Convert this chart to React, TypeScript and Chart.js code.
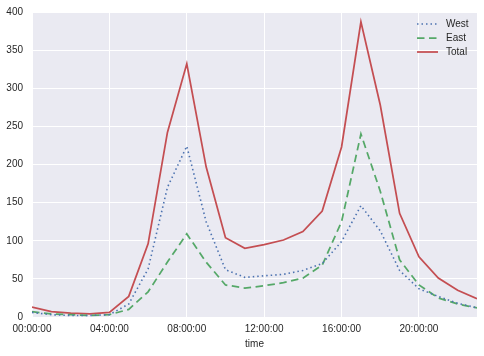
import React, { useEffect, useRef } from "react";
import { Chart, registerables } from "chart.js";

Chart.register(...registerables);

const hours = [0, 1, 2, 3, 4, 5, 6, 7, 8, 9, 10, 11, 12, 13, 14, 15, 16, 17, 18, 19, 20, 21, 22, 23];
const west = [6, 3, 2, 2, 3, 17, 63, 170, 224, 125, 62, 52, 54, 56, 61, 70, 99, 146, 113, 61, 37, 27, 18, 12];
const east = [7, 4, 3, 2, 3, 10, 33, 72, 109, 72, 42, 38, 41, 45, 51, 68, 125, 240, 165, 75, 42, 25, 17, 12];
const total = [13, 7, 5, 4, 6, 27, 96, 242, 332, 197, 104, 90, 95, 101, 112, 139, 223, 387, 278, 136, 79, 51, 35, 24];
const xTickHours = [0, 4, 8, 12, 16, 20];
const yTicks = [0, 50, 100, 150, 200, 250, 300, 350, 400];
const seriesNames = ["West", "East", "Total"];

const pad = (n: number) => (n < 10 ? "0" + n : "" + n);
const fmtHour = (h: number) => `${pad(h)}:00:00`;

const TEXT = "#262626";
const FONT = "'Liberation Sans', Arial, sans-serif";

const bgPlugin = {
  id: "plotBg",
  beforeDraw(chart: any) {
    const { ctx, chartArea } = chart;
    ctx.save();
    ctx.fillStyle = "#EAEAF2";
    ctx.fillRect(chartArea.left, chartArea.top, chartArea.right - chartArea.left, chartArea.bottom - chartArea.top);
    ctx.restore();
  },
};

const legendPlugin = {
  id: "innerLegend",
  afterDraw(chart: any) {
    const { ctx, chartArea } = chart;
    const x0 = chartArea.right - 60;
    const y0 = chartArea.top + 12;
    ctx.save();
    chart.data.datasets.forEach((ds: any, i: number) => {
      const y = y0 + i * 14;
      ctx.strokeStyle = ds.borderColor;
      ctx.lineWidth = ds.borderWidth;
      ctx.setLineDash(ds.borderDash || []);
      ctx.beginPath();
      ctx.moveTo(x0, y);
      ctx.lineTo(x0 + 21, y);
      ctx.stroke();
      ctx.setLineDash([]);
      ctx.fillStyle = TEXT;
      ctx.font = `10px ${FONT}`;
      ctx.textBaseline = "middle";
      ctx.textAlign = "left";
      ctx.fillText(ds.label, x0 + 29, y + 0.5);
    });
    ctx.restore();
  },
};

export default function App() {
  const ref = useRef<HTMLCanvasElement>(null);
  useEffect(() => {
    document.body.style.margin = "0";
    const mk = (arr: number[]) => hours.map((h, i) => ({ x: h, y: arr[i] }));
    const chart = new Chart(ref.current!, {
      type: "line",
      data: {
        datasets: [
          { label: seriesNames[0], data: mk(west), borderColor: "#4C72B0", borderWidth: 1.6, borderDash: [1.5, 3], pointRadius: 0, fill: false, tension: 0 },
          { label: seriesNames[1], data: mk(east), borderColor: "#55A868", borderWidth: 1.75, borderDash: [7.5, 4.5], pointRadius: 0, fill: false, tension: 0 },
          { label: seriesNames[2], data: mk(total), borderColor: "#C44E52", borderWidth: 1.75, pointRadius: 0, fill: false, tension: 0 },
        ],
      },
      options: {
        responsive: false,
        animation: false,
        devicePixelRatio: 1,
        layout: { padding: { top: 12, right: 7, left: 0, bottom: 0 } },
        plugins: { legend: { display: false }, tooltip: { enabled: false } },
        scales: {
          x: {
            type: "linear",
            min: 0,
            max: 23,
            border: { display: false },
            grid: { color: "#FFFFFF", lineWidth: 1, drawTicks: false },
            afterBuildTicks: (s: any) => { s.ticks = xTickHours.map((v) => ({ value: v })); },
            afterFit: (s: any) => { s.height = 39; s.paddingLeft = 0; s.paddingRight = 0; },
            ticks: { autoSkip: false, maxRotation: 0, padding: 6, color: TEXT, font: { family: FONT, size: 10 }, callback: (v: any) => fmtHour(Number(v)) },
            title: { display: true, text: "time", color: TEXT, font: { family: FONT, size: 10 }, padding: { top: 2, bottom: 6 } },
          },
          y: {
            min: 0,
            max: 400,
            border: { display: false },
            grid: { color: "#FFFFFF", lineWidth: 1, drawTicks: false },
            afterBuildTicks: (s: any) => { s.ticks = yTicks.map((v) => ({ value: v })); },
            afterFit: (s: any) => { s.width = 32; s.paddingTop = 0; s.paddingBottom = 0; },
            ticks: { padding: 9, color: TEXT, font: { family: FONT, size: 10 } },
          },
        },
      },
      plugins: [bgPlugin, legendPlugin],
    });
    return () => chart.destroy();
  }, []);
  return <canvas ref={ref} width={484} height={356} style={{ display: "block" }} />;
}
